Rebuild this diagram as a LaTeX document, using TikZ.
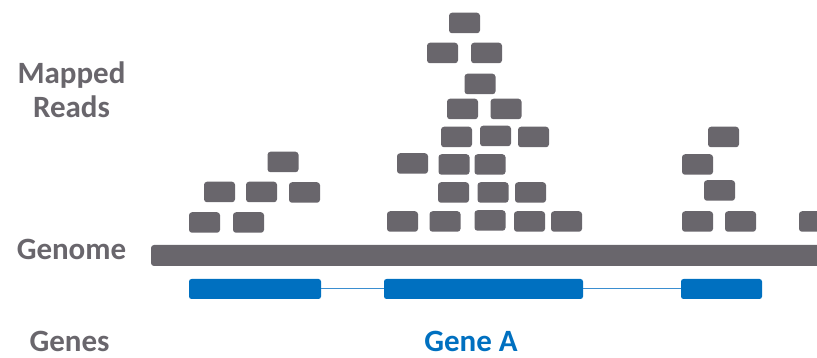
\documentclass[tikz,border=0pt]{standalone}
\usepackage{fontspec}
\setmainfont{Carlito}
\definecolor{readgray}{HTML}{69666C}
\definecolor{geneblue}{HTML}{0070C0}
\definecolor{intronblue}{HTML}{3A8ED0}
\begin{document}
\begin{tikzpicture}[x=1pt,y=-1pt,
  readbox/.style={fill=readgray,draw=none,rounded corners=3pt,
    minimum width=31pt,minimum height=20.5pt,inner sep=0pt},
  exon/.style={fill=geneblue,draw=none,rounded corners=2.5pt,
    minimum height=20pt,inner sep=0pt},
  intron/.style={draw=intronblue,line width=1pt},
  label/.style={font=\fontsize{31}{34}\selectfont\bfseries,text=readgray,
    anchor=base,inner sep=0pt,align=center}]
\useasboundingbox (0,0) rectangle (817,358);
\clip (0,0) rectangle (817,358);
% reference genome strip
\fill[readgray,rounded corners=3pt] (151,245) rectangle (840,266);
% mapped reads, one node per read (centre x, centre y)
\foreach \n/\cx/\cy in {
  1/283/162, 2/219.5/192, 3/261.5/192, 4/304.5/192.5, 5/204.5/222.5, 6/248.5/222.5,
  7/464.5/23, 8/442.5/53, 9/486.5/53, 10/480/84, 11/462.5/109, 12/506/109,
  13/456.5/137, 14/495.5/136, 15/533.5/137, 16/412.5/163.5, 17/454/164.5, 18/490/164.5,
  19/453.5/192.5, 20/493/192.5, 21/530.5/192.5,
  22/402.5/221.5, 23/445/221.5, 24/490/220.5, 25/529.5/221.5, 26/566.5/221.5,
  27/723.5/137, 28/697.5/164.5, 29/719.5/190.5, 30/697.5/221.5, 31/740.5/221.5, 32/814.5/221.5}
  \node[readbox] (read\n) at (\cx,\cy) {};
% gene model: exons joined by introns
\node[exon,minimum width=132pt] (exon1) at (255,289) {};
\node[exon,minimum width=199pt] (exon2) at (483.5,289) {};
\node[exon,minimum width=81pt] (exon3) at (721.5,289) {};
\draw[intron] (exon1.east) -- (exon2.west);
\draw[intron] (exon2.east) -- (exon3.west);
% labels
\node[label] (mapped) at (71.5,118) {Mapped\\Reads};
\node[label] (genome) at (71.5,260) {Genome};
\node[label,text depth=0pt] (genes) at (69.5,351) {Genes};
\node[label,text depth=0pt,text=geneblue] (geneA) at (471,351) {Gene A};
\end{tikzpicture}
\end{document}
